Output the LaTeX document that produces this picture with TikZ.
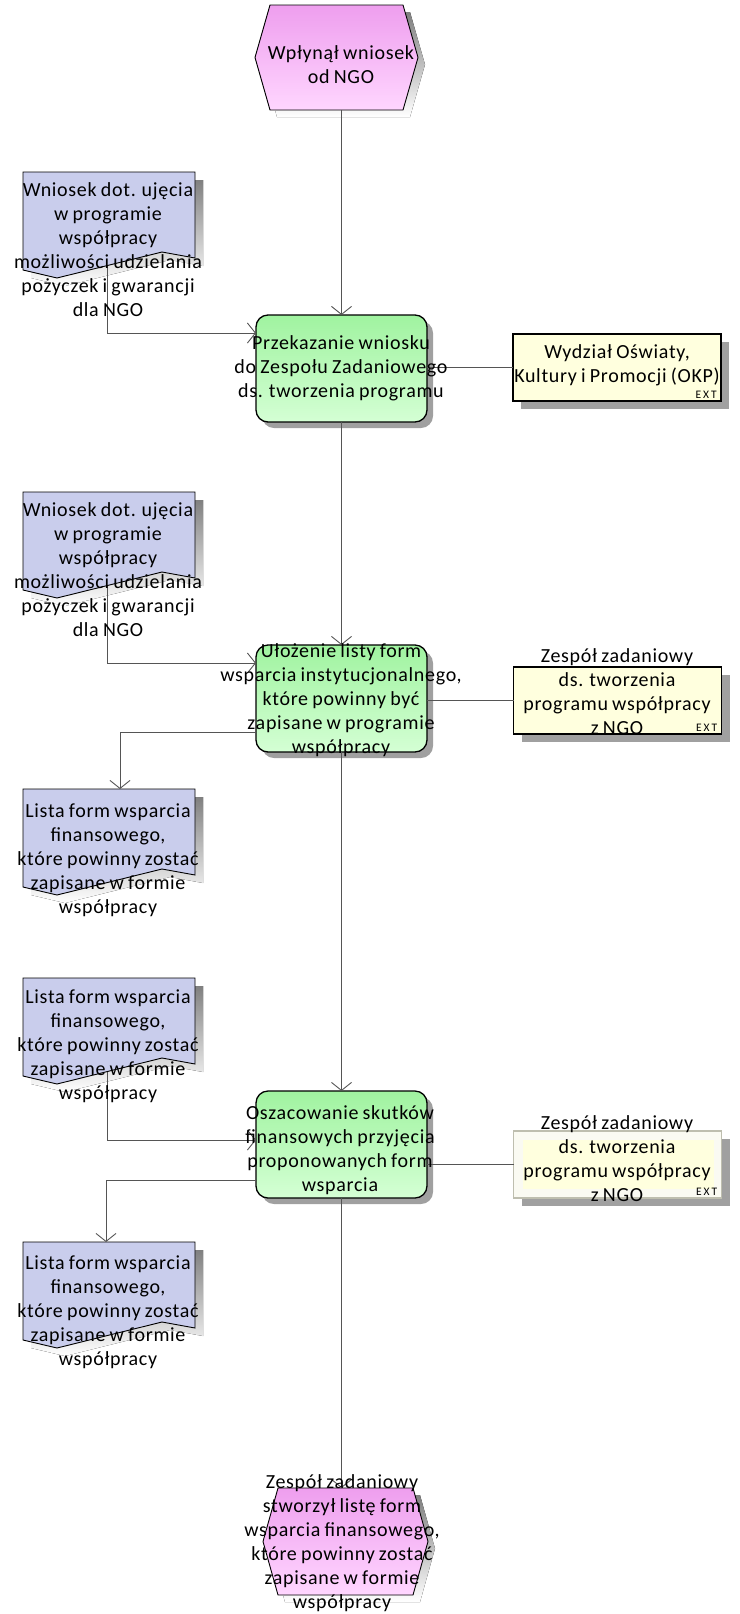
\documentclass[tikz,border=0pt]{standalone}
\usepackage{fontspec}
\setmainfont{Carlito}[LetterSpace=3.5, WordSpace=0.8]
\usetikzlibrary{arrows.meta,calc,shadows}

\definecolor{procTop}{RGB}{160,243,160}
\definecolor{procBot}{RGB}{212,255,212}
\definecolor{evTop}{RGB}{238,158,238}
\definecolor{evBot}{RGB}{255,214,255}
\definecolor{docFill}{RGB}{201,205,236}
\definecolor{extFill}{RGB}{255,255,222}
\definecolor{extPale}{RGB}{250,250,242}
\definecolor{extEdge}{RGB}{190,190,175}
\definecolor{shade}{RGB}{160,160,160}
\definecolor{wire}{RGB}{85,85,85}

% document symbol with a zig-zag lower edge; #1 name, (#2,#3) top-left corner
\newcommand\docshape[3]{%
  \fill[shade] ($(#2,#3)+(8,8)$) -- ++(172,0) -- ++(0,86) -- ++(-33,-6) -- ++(-105,26) -- ++(-34,-8) -- cycle;
  \path[docline] (#2,#3) -- ++(172,0) -- ++(0,86) -- ++(-33,-6) -- ++(-105,26) -- ++(-34,-8) -- cycle;
  \node[hold, minimum width=172pt, minimum height=98pt] (#1) at ($(#2,#3)+(86,49)$) {};
}

\begin{document}
\begin{tikzpicture}[x=1pt,y=-1pt,
  txt/.style={font=\fontsize{20}{24}\selectfont, align=center, inner sep=0pt, text=black},
  proc/.style={draw=black, line width=1.3pt, rounded corners=12pt, top color=procTop, bottom color=procBot,
    minimum width=171pt, minimum height=107pt, inner sep=0pt, outer sep=0pt,
    drop shadow={shadow xshift=6pt, shadow yshift=-6pt, fill=shade, opacity=1}},
  ext/.style={draw=black, line width=1.2pt, fill=extFill, minimum width=208pt, minimum height=67pt,
    inner sep=0pt, outer sep=0pt,
    drop shadow={shadow xshift=8pt, shadow yshift=-8pt, fill=shade, opacity=1}},
  hold/.style={inner sep=0pt, outer sep=0pt},
  docline/.style={draw=black, line width=0.9pt, fill=docFill},
  evline/.style={draw=black, line width=0.9pt, top color=evTop, bottom color=evBot},
  conn/.style={draw=wire, line width=0.9pt, -{Straight Barb[length=8pt,width=20pt,line width=0.9pt]}},
  link/.style={draw=wire, line width=0.9pt},
  exttag/.style={font=\fontsize{11.5}{12}\selectfont, inner sep=0pt, anchor=base east}
]
\useasboundingbox (0,0) rectangle (739,1614);

% start event
\fill[shade, shift={(7,7)}] (255,57.5) -- (270,5) -- (403,5) -- (418,57.5) -- (403,110) -- (270,110) -- cycle;
\path[evline] (255,57.5) -- (270,5) -- (403,5) -- (418,57.5) -- (403,110) -- (270,110) -- cycle;
\node[hold, minimum width=163pt, minimum height=105pt] (h1) at (336.5,57.5) {};

% end event
\fill[shade, shift={(7,7)}] (263,1541.5) -- (278,1488) -- (413,1488) -- (428,1541.5) -- (413,1595) -- (278,1595) -- cycle;
\path[evline] (263,1541.5) -- (278,1488) -- (413,1488) -- (428,1541.5) -- (413,1595) -- (278,1595) -- cycle;
\node[hold, minimum width=165pt, minimum height=107pt] (h2) at (345.5,1541.5) {};

% process steps
\node[proc] (p1) at (341.5,368.5) {};
\node[proc] (p2) at (341.5,698.5) {};
\node[proc] (p3) at (341.5,1144.5) {};

% organisational units
\node[ext] (e1) at (617,367.5) {};
\node[ext] (e2) at (617.5,700.5) {};
\node[ext, draw=extEdge, fill=extPale] (e3) at (617.5,1164.5) {};
\fill[extFill] ($(e3.north west)+(9,9)$) rectangle ($(e3.south east)+(-8,-9)$);

% documents
\docshape{w1}{23}{172}
\docshape{w2}{23}{492}
\docshape{l1}{23}{789}
\docshape{l2}{23}{978}
\docshape{l3}{23}{1242}

% main flow
\draw[conn] (p1.north |- h1.south) -- (p1.north);
\draw[conn] (p1.south) -- (p2.north);
\draw[conn] (p2.south) -- (p3.north);
\draw[conn] (p3.south) -- (p3.south |- h2.north);

% inputs and outputs
\draw[conn] ($(w1.north west)+(84,94)$) |- ($(p1.north west)+(0,18)$);
\draw[conn] ($(w2.north west)+(84,94)$) |- ($(p2.north west)+(0,18)$);
\draw[conn] ($(p2.north west)+(0,87)$) -| ($(l1.north west)+(97,0)$);
\draw[conn] ($(l2.north west)+(84,94)$) |- ($(p3.north west)+(0,49)$);
\draw[conn] ($(p3.north west)+(0,89)$) -| ($(l3.north west)+(83,0)$);

% responsible units
\draw[link] (p1.east |- e1.west) -- (e1.west);
\draw[link] (p2.east |- e2.west) -- (e2.west);
\draw[link] (p3.east |- e3.west) -- (e3.west);

% labels
\node[txt] (t0) at (341,65) {Wpłynął wniosek\\od NGO};
\node[txt] (t1) at (341,368) {Przekazanie wniosku\\do Zespołu Zadaniowego\\ds. tworzenia programu};
\node[txt] (t2) at (341,700) {Ułożenie listy form\\wsparcia instytucjonalnego,\\które powinny być\\zapisane w programie\\współpracy};
\node[txt] (t3) at (340,1150) {Oszacowanie skutków\\finansowych przyjęcia\\proponowanych form\\wsparcia};
\node[txt] (t4) at (342,1543) {Zespół zadaniowy\\stworzył listę form\\wsparcia finansowego,\\które powinny zostać\\zapisane w formie\\współpracy};

\node[txt] (tw1) at (108,250) {Wniosek dot. ujęcia\\w programie\\współpracy\\możliwości udzielania\\pożyczek i gwarancji\\dla NGO};
\node[txt] (tw2) at (108,570) {Wniosek dot. ujęcia\\w programie\\współpracy\\możliwości udzielania\\pożyczek i gwarancji\\dla NGO};
\node[txt] (tl1) at (108,860) {Lista form wsparcia\\finansowego,\\które powinny zostać\\zapisane w formie\\współpracy};
\node[txt] (tl2) at (108,1046) {Lista form wsparcia\\finansowego,\\które powinny zostać\\zapisane w formie\\współpracy};
\node[txt] (tl3) at (108,1312) {Lista form wsparcia\\finansowego,\\które powinny zostać\\zapisane w formie\\współpracy};

\node[txt] (te1) at (617,365) {Wydział Oświaty,\\Kultury i Promocji (OKP)};
\node[txt] (te2) at (617,692) {Zespół zadaniowy\\ds. tworzenia\\programu współpracy\\z NGO};
\node[txt] (te3) at (617,1159) {Zespół zadaniowy\\ds. tworzenia\\programu współpracy\\z NGO};

\node[exttag] (x1) at ($(e1.south east)+(-4,-3)$) {E\kern2pt X\kern2pt T};
\node[exttag] (x2) at ($(e2.south east)+(-4,-3)$) {E\kern2pt X\kern2pt T};
\node[exttag] (x3) at ($(e3.south east)+(-4,-3)$) {E\kern2pt X\kern2pt T};
\end{tikzpicture}
\end{document}
